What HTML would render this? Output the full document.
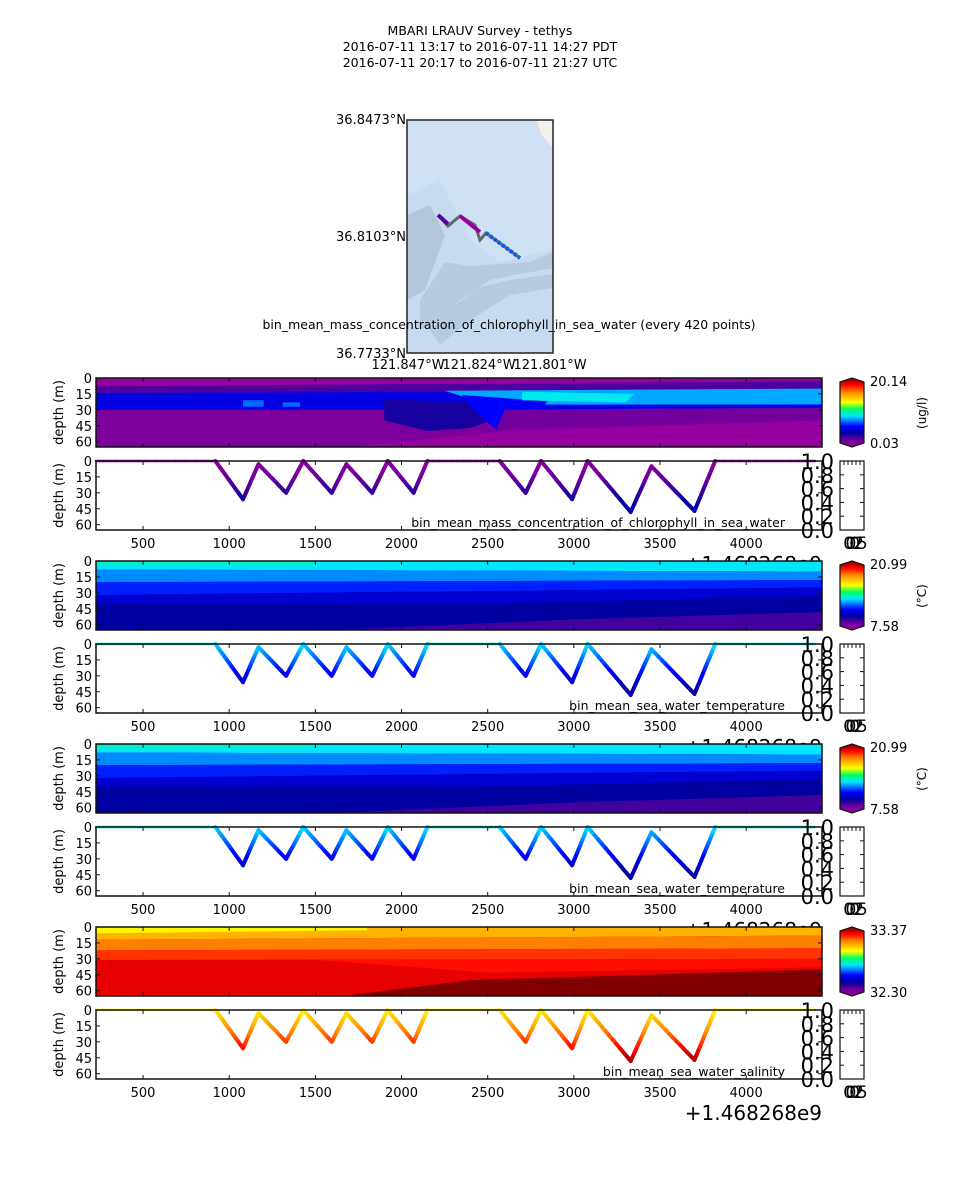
<!DOCTYPE html>
<html><head><meta charset="utf-8"><style>
html,body{margin:0;padding:0;background:#fff}
svg{display:block;font-family:"DejaVu Sans","Liberation Sans",sans-serif}
</style></head><body>
<svg id="fig" width="960" height="1200" viewBox="0 0 960 1200" xmlns="http://www.w3.org/2000/svg">
<g font-size="12.5" text-anchor="middle" fill="#000">
<text x="480" y="35">MBARI LRAUV Survey - tethys</text>
<text x="480" y="51">2016-07-11 13:17  to  2016-07-11 14:27 PDT</text>
<text x="480" y="67">2016-07-11 20:17  to  2016-07-11 21:27 UTC</text>
</g>
<g>
<rect x="407" y="120" width="146" height="233" fill="#c6dbef"/>
<path d="M407 195 L440 180 L470 240 L500 262 L553 250 L553 120 L407 120 Z" fill="#cfe0f2"/>
<path d="M407 215 L430 205 L445 235 L425 290 L407 300 Z" fill="#b3c6da"/>
<path d="M420 300 L445 262 L470 266 L500 264 L530 262 L553 252 L553 268 L520 274 L490 280 L460 300 L440 320 L420 330 Z" fill="#b8cade"/>
<path d="M430 330 L455 305 L480 287 L510 280 L553 274 L553 288 L510 295 L470 320 L440 345 Z" fill="#adc0d6" opacity="0.6"/>
<path d="M537 120 L553 120 L553 148 L541 134 Z" fill="#f3f1ea"/>
<polyline points="438,215 448,226 460,216 475,225 480,240 486,233 520,258" fill="none" stroke="#666" stroke-width="3"/>
<polyline points="438,215 448,224" stroke="#5a00a0" stroke-width="4" fill="none"/>
<polyline points="460,216 480,232" stroke="#9a00a0" stroke-width="4" fill="none"/>
<polyline points="486,233 520,258" stroke="#0060ff" stroke-width="4" fill="none" stroke-dasharray="3 2"/>
<rect x="407" y="120" width="146" height="233" fill="none" stroke="#222" stroke-width="1.5"/>
<g font-size="13" text-anchor="end">
<text x="406" y="124">36.8473°N</text><text x="406" y="241">36.8103°N</text><text x="406" y="358">36.7733°N</text>
</g>
<g font-size="13" text-anchor="middle">
<text x="408" y="369">121.847°W</text><text x="479" y="369">121.824°W</text><text x="550" y="369">121.801°W</text>
</g>
<text x="509" y="329" font-size="12.5" text-anchor="middle">bin_mean_mass_concentration_of_chlorophyll_in_sea_water (every 420 points)</text>
</g>
<g id="panels"></g>
</svg>
<script>
// ---- data ----
const timeTicks = [500,1000,1500,2000,2500,3000,3500,4000];
const depthTicks = [0,15,30,45,60];
const diveTimes  = [227,920,1080,1170,1330,1430,1595,1680,1830,1920,2070,2150,2570,2720,2810,2990,3080,3330,3450,3700,3820,4400];
const diveDepths = [0,0,36,3,30,0,30,3,30,0,30,0,0,30,0,36,0,48,5,47,0,0];
const chlRange = ["20.14","0.03"];
const tempRange = ["20.99","7.58"];
const salRange = ["33.37","32.30"];
// contour layers: [time,depth] polygons with normalized values
const chlLayers = [
 {v:0.07, p:[[227,0],[4440,0],[4440,70],[227,70]]},
 {v:0.02, p:[[227,0],[4440,0],[4440,3],[227,8]]},
 {v:0.13, p:[[227,8],[4440,3],[4440,12],[227,14]]},
 {v:0.27, p:[[227,14],[4440,12],[4440,28],[2500,30],[227,30]]},
 {v:0.37, p:[[1080,21],[1200,21],[1200,27],[1080,27]]},
 {v:0.37, p:[[1310,23],[1410,23],[1410,27],[1310,27]]},
 {v:0.18, p:[[1900,20],[2800,25],[2400,47],[2150,50],[1900,40]]},
 {v:0.41, p:[[2250,12],[4440,10],[4440,25],[2500,25]]},
 {v:0.30, p:[[2350,16],[2850,22],[2700,45],[2550,49],[2420,30]]},
 {v:0.46, p:[[2700,13],[3350,15],[3300,23],[2700,21]]},
 {v:0.09, p:[[2600,30],[4440,28],[4440,40],[2550,48]]},
 {v:0.02, p:[[1700,70],[2600,50],[4440,40],[4440,70]]}
];
const tempLayers = [
 {v:0.20, p:[[227,0],[4440,0],[4440,70],[227,70]]},
 {v:0.45, p:[[227,0],[4440,0],[4440,10],[227,8]]},
 {v:0.48, p:[[227,0],[1500,0],[1500,4],[227,5]]},
 {v:0.39, p:[[227,8],[4440,10],[4440,18],[227,20]]},
 {v:0.32, p:[[227,20],[4440,18],[4440,25],[227,32]]},
 {v:0.25, p:[[227,32],[4440,25],[4440,33],[2500,40],[227,40]]},
 {v:0.14, p:[[1600,70],[3000,55],[4440,48],[4440,70]]}
];
const salLayers = [
 {v:0.92, p:[[227,0],[4440,0],[4440,70],[227,70]]},
 {v:0.74, p:[[227,0],[4440,0],[4440,8],[227,12]]},
 {v:0.66, p:[[227,0],[1800,0],[1800,3],[227,6]]},
 {v:0.80, p:[[227,12],[4440,8],[4440,20],[227,22]]},
 {v:0.86, p:[[227,22],[4440,20],[4440,30],[227,31]]},
 {v:0.89, p:[[1500,31],[4440,30],[4440,38],[2500,43]]},
 {v:1.00, p:[[1650,70],[2400,50],[4440,40],[4440,70]]}
];
const panels = [
 {top:378, layers:chlLayers, range:chlRange, unit:"(ug/l)", name:"bin_mean_mass_concentration_of_chlorophyll_in_sea_water", surf:0.04, deep:0.22, key:"chlorophyll"},
 {top:561, layers:tempLayers, range:tempRange, unit:"(°C)", name:"bin_mean_sea_water_temperature", surf:0.45, deep:0.19, key:"temperature"},
 {top:744, layers:tempLayers, range:tempRange, unit:"(°C)", name:"bin_mean_sea_water_temperature", surf:0.45, deep:0.19, key:"temperature-2"},
 {top:927, layers:salLayers, range:salRange, unit:"", name:"bin_mean_sea_water_salinity", surf:0.66, deep:0.96, key:"salinity"}
];
// ---- colormap ----
const cmap=[[0,[160,0,160]],[0.1,[110,0,155]],[0.2,[0,0,160]],[0.3,[0,0,255]],[0.45,[0,230,255]],[0.55,[0,255,96]],[0.65,[255,255,0]],[0.8,[255,128,0]],[0.9,[255,0,0]],[1,[128,0,0]]];
function col(v){v=Math.max(0,Math.min(1,v));for(let i=1;i<cmap.length;i++){if(v<=cmap[i][0]){const a=cmap[i-1],b=cmap[i],t=(v-a[0])/(b[0]-a[0]);const c=a[1].map((x,k)=>Math.round(x+(b[1][k]-x)*t));return `rgb(${c})`;}}return 'rgb(128,0,0)';}
const X0=96,X1=822,T0=227,T1=4440,H=69,DMAX=65;
const xs=t=>X0+(t-T0)/(T1-T0)*(X1-X0);
const NS="http://www.w3.org/2000/svg";
const root=document.getElementById('panels');
function mk(tag,attrs,parent){const e=document.createElementNS(NS,tag);for(const k in attrs)e.setAttribute(k,attrs[k]);(parent||root).appendChild(e);return e;}
function txt(x,y,s,size,anchor,parent,extra){const e=mk('text',Object.assign({x:x,y:y,'font-size':size,'text-anchor':anchor||'start'},extra||{}),parent);e.textContent=s;return e;}
function axes(g,top,showX){
 const ys=d=>top+Math.min(d,DMAX)*(H/DMAX);
 mk('rect',{x:X0,y:top,width:X1-X0,height:H,fill:'none',stroke:'#111','stroke-width':1.5},g);
 timeTicks.forEach(t=>{const x=xs(t);mk('line',{x1:x,x2:x,y1:top+H,y2:top+H-4,stroke:'#111'},g);mk('line',{x1:x,x2:x,y1:top,y2:top+4,stroke:'#111'},g);
  if(showX)txt(x,top+H+18,String(t),13,'middle',g);});
 depthTicks.forEach(d=>{const y=ys(d);mk('line',{x1:X0,x2:X0+4,y1:y,y2:y,stroke:'#111'},g);mk('line',{x1:X1,x2:X1-4,y1:y,y2:y,stroke:'#111'},g);
  txt(X0-4,y+5,String(d),13,'end',g);});
 txt(0,0,'depth (m)',13,'middle',g,{transform:`translate(63,${top+H/2}) rotate(-90)`});
}
panels.forEach((P,pi)=>{
 const top=P.top, ys=d=>top+Math.min(d,DMAX)*(H/DMAX);
 const g=mk('g',{});
 
 
 P.layers.forEach(L=>{
  const poly=mk('polygon',{points:L.p.map(q=>xs(q[0]).toFixed(1)+','+ys(q[1]).toFixed(1)).join(' '),fill:col(L.v)},g);
  
  
 });
 axes(g,top,false);
 const cb=mk('g',{});
 
 
 const gid='grad'+pi;
 const lg=mk('linearGradient',{id:gid,x1:0,y1:1,x2:0,y2:0},cb);
 cmap.forEach(s=>mk('stop',{offset:s[0],'stop-color':col(s[0])},lg));
 mk('polygon',{points:`840,${top+4} 852,${top} 864,${top+4} 864,${top+H-4} 852,${top+H} 840,${top+H-4}`,fill:`url(#${gid})`,stroke:'#111','stroke-width':1.2},cb);
 txt(870,top+8,P.range[0],13,'start',cb);
 txt(870,top+70,P.range[1],13,'start',cb);
 if(P.unit)txt(0,0,P.unit,12,'middle',cb,{transform:`translate(926,${top+35}) rotate(-90)`});
 const st=top+83, sy=d=>st+Math.min(d,DMAX)*(H/DMAX);
 const g2=mk('g',{});
 
 
 for(let i=1;i<diveTimes.length;i++){
  const n=12;
  for(let k=0;k<n;k++){
   const a=k/n,b=(k+1)/n;
   const t1=diveTimes[i-1]+(diveTimes[i]-diveTimes[i-1])*a,t2=diveTimes[i-1]+(diveTimes[i]-diveTimes[i-1])*b;
   const d1=diveDepths[i-1]+(diveDepths[i]-diveDepths[i-1])*a,d2=diveDepths[i-1]+(diveDepths[i]-diveDepths[i-1])*b;
   const dm=(d1+d2)/2;
   const seg=mk('line',{x1:xs(t1).toFixed(1),y1:sy(d1).toFixed(1),x2:xs(t2).toFixed(1),y2:sy(d2).toFixed(1),stroke:col(P.surf+(P.deep-P.surf)*Math.min(1,dm/45)),'stroke-width':(dm<1?2.5:4),'stroke-linecap':'round'},g2);
   
   
  }
 }
 axes(g2,st,true);
 txt(785,st+66,P.name,12.5,'end',g2);
 const dc=mk('g',{});
 
 
 mk('rect',{x:840,y:st,width:24,height:H,fill:'#fff',stroke:'#111','stroke-width':1.2},dc);
 [0,0.2,0.4,0.6,0.8,1.0].forEach((v,j)=>{const y=st+H-v*H;mk('line',{x1:840,x2:844,y1:y,y2:y,stroke:'#111'},dc);mk('line',{x1:864,x2:860,y1:y,y2:y,stroke:'#111'},dc);
  txt(834,y+8,v.toFixed(1),21,'end',dc);});
 [844,848,852,856,860].forEach(x=>mk('line',{x1:x,x2:x,y1:st,y2:st+4,stroke:'#111'},dc));
 txt(852,st+H+19,'0.0025',17,'middle',dc,{'letter-spacing':'-7'});
 txt(822,st+H+41,'+1.468268e9',20,'end',g2);
});
</script>
</body></html>
